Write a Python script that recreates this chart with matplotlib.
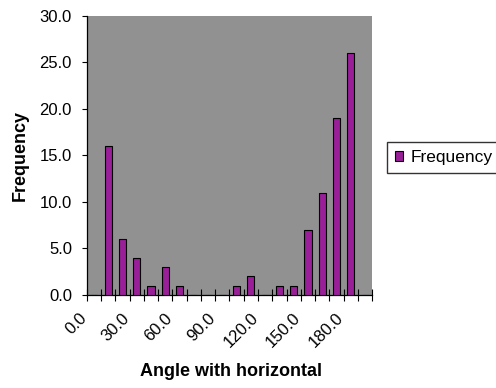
import numpy as np
import matplotlib
matplotlib.use("Agg")
import matplotlib.pyplot as plt
import matplotlib.transforms as mtrans
from matplotlib.patches import Patch

plt.rcParams["font.family"] = ["Liberation Sans", "DejaVu Sans"]

angles = [0, 10, 20, 30, 40, 50, 60, 70, 80, 90,
          100, 110, 120, 130, 140, 150, 160, 170, 180, 190]
freq = [0, 16, 6, 4, 1, 3, 1, 0, 0, 0,
        1, 2, 0, 1, 1, 7, 11, 19, 26, 0]
label_every = 3

BAR = "#991f99"
BG = "#919191"

fig = plt.figure(figsize=(4.96, 3.88), dpi=100)
ax = fig.add_axes([0.1748, 0.2397, 0.5758, 0.7191])
ax.set_facecolor(BG)

x = np.arange(len(angles))
ax.bar(x, freq, width=0.5, color=BAR, edgecolor="black", linewidth=0.8, zorder=3)

ax.set_xlim(-0.5, len(angles) - 0.5)
ax.set_ylim(0, 30)
ax.set_yticks(np.arange(0, 31, 5))
ax.set_yticklabels(["%.1f" % v for v in np.arange(0, 31, 5)], fontsize=12)
ax.tick_params(axis="y", direction="out", length=3.6, width=0.8, pad=7)

# tick marks between categories, labels on every third category
ax.set_xticks(np.arange(len(angles) + 1) - 0.5)
ax.set_xticklabels([])
ax.tick_params(axis="x", which="major", direction="inout", length=8, width=0.8)
lab_pos = x[::label_every]
ax.set_xticks(lab_pos, minor=True)
ax.set_xticklabels(["%.1f" % angles[i] for i in lab_pos], minor=True,
                   rotation=45, ha="right", rotation_mode="anchor", fontsize=12)
ax.tick_params(axis="x", which="minor", length=0, pad=11)
shift = mtrans.ScaledTranslation(-15 / 100, 0, fig.dpi_scale_trans)
for lab in ax.get_xticklabels(minor=True):
    lab.set_transform(lab.get_transform() + shift)

for s in ["top", "right"]:
    ax.spines[s].set_visible(False)
for s in ["left", "bottom"]:
    ax.spines[s].set_linewidth(0.9)

ax.set_xlabel("Angle with horizontal", fontsize=13, fontweight="bold")
ax.xaxis.set_label_coords(0.505, -0.245)
ax.set_ylabel("Frequency", fontsize=13, fontweight="bold", labelpad=8)

fig.legend(handles=[Patch(facecolor=BAR, edgecolor="black", linewidth=0.8, label="Frequency")],
           loc="upper left", bbox_to_anchor=(387 / 496, 1 - 142 / 388),
           fontsize=12.5, frameon=True, fancybox=False, edgecolor="black",
           handlelength=0.5, handleheight=0.5, handletextpad=0.4,
           borderpad=0.45, borderaxespad=0)

fig.savefig("out.png", dpi=100)
